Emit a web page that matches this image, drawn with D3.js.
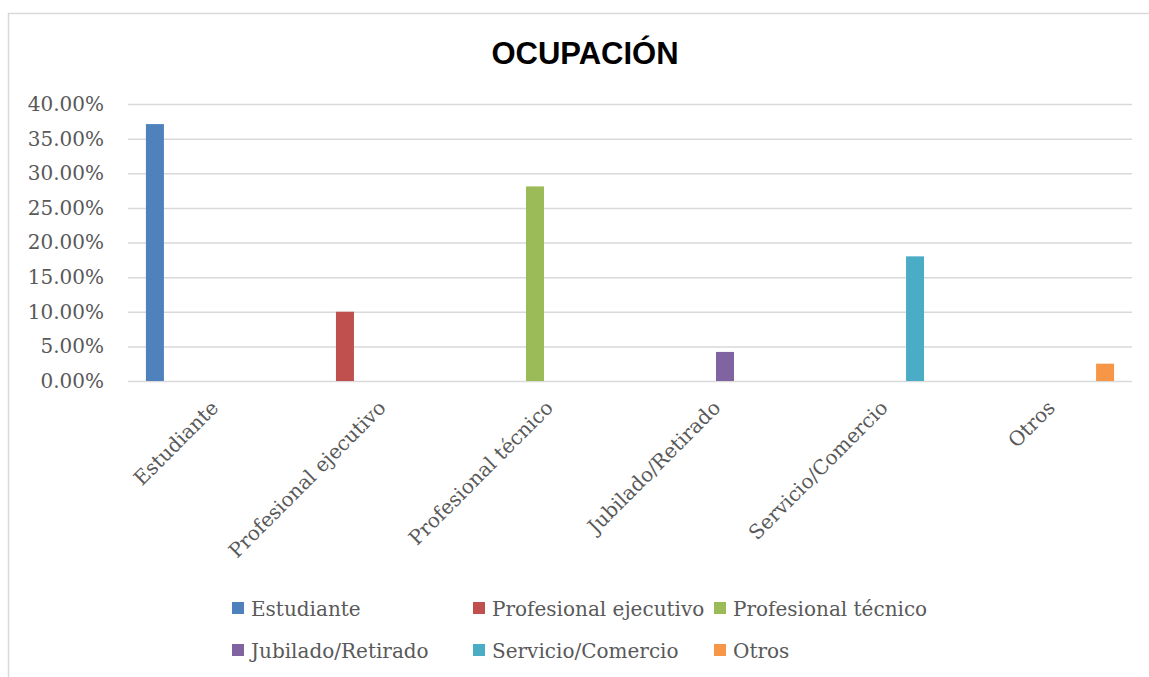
<!DOCTYPE html>
<html>
<head>
<meta charset="utf-8">
<script src="https://cdn.jsdelivr.net/npm/d3@7"></script>
<style>
  body { margin: 0; background: #fff; }
</style>
</head>
<body>
<div id="chart"></div>
<script>
// data
var categories = ['Estudiante', 'Profesional ejecutivo', 'Profesional técnico',
                  'Jubilado/Retirado', 'Servicio/Comercio', 'Otros'];
var values = [0.371, 0.100, 0.281, 0.042, 0.180, 0.025];
var yTicks = [0, 0.05, 0.10, 0.15, 0.20, 0.25, 0.30, 0.35, 0.40];
var colors = ['#4F81BD', '#C0504D', '#9BBB59', '#8064A2', '#4BACC6', '#F79646'];

var W = 1149, H = 677;
var margin = {top: 104, right: 17, bottom: 296, left: 128};
var width = W - margin.left - margin.right;
var height = H - margin.top - margin.bottom;

var svg = d3.select('#chart').append('svg')
    .attr('width', W)
    .attr('height', H);

// chart frame
svg.append('rect')
    .attr('x', 8.5).attr('y', 13.5)
    .attr('width', W + 10).attr('height', H + 10)
    .attr('fill', 'none')
    .attr('stroke', '#d9d9d9')
    .attr('stroke-width', 1.5);

svg.append('text')
    .attr('x', 585)
    .attr('y', 64)
    .attr('font-family', 'Liberation Sans, Arial, sans-serif')
    .style('font-size', '31px')
    .style('font-weight', 'bold')
    .style('text-anchor', 'middle')
    .attr('fill', '#000')
    .text('OCUPACIÓN');

var g = svg.append('g')
    .attr('transform', 'translate(' + margin.left + ',' + margin.top + ')');

var xScale = d3.scaleBand()
    .domain(categories)
    .range([0, width])
    .padding(0);

// each category holds one slot per series, like a clustered column chart
var xSeries = d3.scaleBand()
    .domain(categories)
    .range([0, xScale.bandwidth()])
    .paddingInner(0.207)
    .paddingOuter(0.79);

var yScale = d3.scaleLinear()
    .domain([0, 0.40])
    .range([height, 0]);

// gridlines
g.append('g')
    .call(d3.axisLeft(yScale).tickValues(yTicks).tickSize(-width).tickFormat(''))
    .call(function(a) { a.select('.domain').remove(); })
    .selectAll('line')
    .attr('stroke', '#d9d9d9')
    .attr('stroke-width', 1.5);

// y labels
g.append('g')
    .call(d3.axisLeft(yScale).tickValues(yTicks).tickSize(0).tickPadding(24)
        .tickFormat(function(d) { return d3.format('.2f')(d * 100) + '%'; }))
    .call(function(a) { a.select('.domain').remove(); })
    .selectAll('text')
    .attr('font-family', 'DejaVu Serif, serif')
    .style('font-size', '20px')
    .attr('fill', '#595959');

// x labels, rotated
g.append('g')
    .attr('transform', 'translate(0,' + height + ')')
    .call(d3.axisBottom(xScale).tickSize(0).tickPadding(0))
    .call(function(a) { a.select('.domain').remove(); })
    .selectAll('text')
    .attr('font-family', 'DejaVu Serif, serif')
    .style('font-size', '20px')
    .attr('fill', '#595959')
    .style('text-anchor', 'end')
    .attr('dy', 0)
    .attr('transform', 'translate(8,28) rotate(-45)');

// bars
g.selectAll('.bar')
    .data(values)
    .enter().append('rect')
    .attr('class', 'bar')
    .attr('x', function(d, i) { return xScale(categories[i]) + xSeries(categories[i]); })
    .attr('width', xSeries.bandwidth())
    .attr('y', function(d) { return yScale(d); })
    .attr('height', function(d) { return height - yScale(d); })
    .attr('fill', function(d, i) { return colors[i]; });

// legend, three columns by two rows
var legCols = [232, 473, 714];
var legRows = [616, 658];
var leg = svg.selectAll('.leg')
    .data(categories)
    .enter().append('g')
    .attr('class', 'leg')
    .attr('transform', function(d, i) {
        return 'translate(' + legCols[i % 3] + ',' + legRows[Math.floor(i / 3)] + ')';
    });

leg.append('rect')
    .attr('x', 0).attr('y', -14)
    .attr('width', 12).attr('height', 12)
    .attr('fill', function(d, i) { return colors[i]; });

leg.append('text')
    .attr('x', 19)
    .attr('y', 0)
    .attr('font-family', 'DejaVu Serif, serif')
    .style('font-size', '20px')
    .attr('fill', '#595959')
    .text(function(d) { return d; });
</script>
</body>
</html>
